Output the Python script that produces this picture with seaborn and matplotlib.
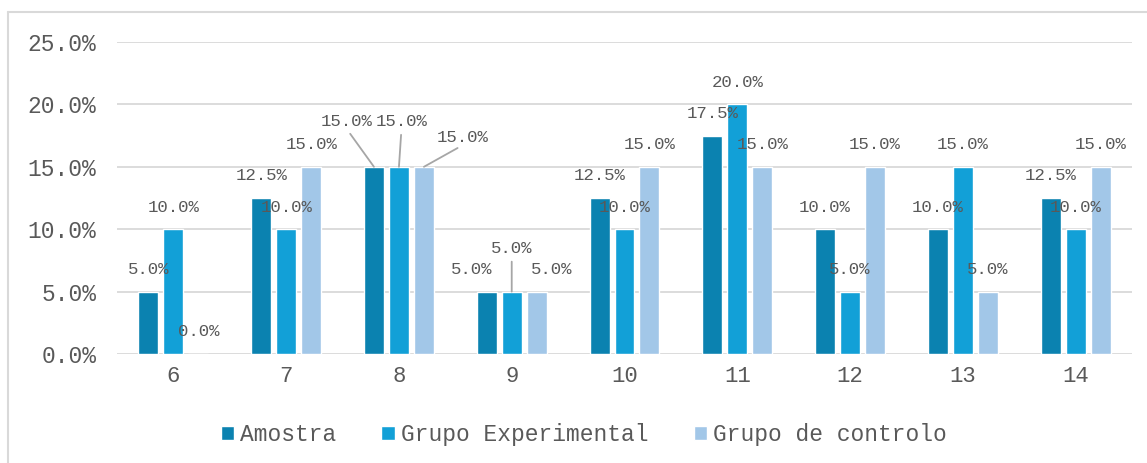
import matplotlib
matplotlib.use("Agg")
import matplotlib.pyplot as plt
from matplotlib.lines import Line2D
import numpy as np
import pandas as pd
import seaborn as sns

# Idades e percentagens por grupo
idades = ["6", "7", "8", "9", "10", "11", "12", "13", "14"]
grupos = ["Amostra", "Grupo Experimental", "Grupo de controlo"]
amostra = [5.0, 12.5, 15.0, 5.0, 12.5, 17.5, 10.0, 10.0, 12.5]
experimental = [10.0, 10.0, 15.0, 5.0, 10.0, 20.0, 5.0, 15.0, 10.0]
controlo = [0.0, 15.0, 15.0, 5.0, 15.0, 15.0, 15.0, 5.0, 15.0]
y_ticks = [0, 5, 10, 15, 20, 25]

cores = ["#0B82B0", "#12A0D7", "#A2C7E8"]
texto = "#595959"
grelha = "#D9D9D9"

df = pd.DataFrame({
    "idade": idades * 3,
    "grupo": [g for g in grupos for _ in idades],
    "pct": amostra + experimental + controlo,
})

sns.set_theme(style="white")
plt.rcParams["font.family"] = ["Liberation Mono", "DejaVu Sans Mono"]

fig = plt.figure(figsize=(11.47, 4.63), dpi=100)
ax = fig.add_axes([117 / 1147, 1 - 354 / 463, (1132 - 117) / 1147, (354 - 42) / 463])

sns.barplot(data=df, x="idade", y="pct", hue="grupo", order=idades,
            hue_order=grupos, palette=cores, saturation=1, width=0.665,
            gap=0.2, errorbar=None, ax=ax)

ax.set_xlim(-0.5, len(idades) - 0.5)
ax.set_ylim(0, 25)
ax.set_yticks(y_ticks)
ax.set_yticklabels([f"{v:.1f}%" for v in y_ticks])
ax.yaxis.grid(True, color=grelha, linewidth=1.3)
ax.set_axisbelow(True)
for s in ax.spines.values():
    s.set_visible(False)
ax.tick_params(axis="y", length=0, pad=15, labelsize=16.5, labelcolor=texto)
ax.tick_params(axis="x", length=0, pad=9, labelsize=16, labelcolor=texto)
ax.set_xlabel("")
ax.set_ylabel("")

# Rótulos de dados: por omissão centrados 22 px acima da barra
ajustes = {
    ("Amostra", "8"): (-27, 45, True),
    ("Grupo Experimental", "8"): (2.5, 45, True),
    ("Grupo de controlo", "8"): (38.5, 29, True),
    ("Amostra", "9"): (-15, 22, False),
    ("Grupo Experimental", "9"): (0, 43, True),
    ("Grupo de controlo", "9"): (15, 22, False),
}
for grupo, cont in zip(grupos, ax.containers):
    for idade, barra in zip(idades, cont):
        valor = barra.get_height()
        xc = barra.get_x() + barra.get_width() / 2
        dx, dy, linha = ajustes.get((grupo, idade), (0, 22, False))
        props = None
        if linha:
            props = dict(arrowstyle="-", color="#A6A6A6", lw=1.3,
                         shrinkA=4, shrinkB=0, relpos=(0.5, 0), patchA=None)
        ax.annotate(f"{valor:.1f}%", xy=(xc, valor), xytext=(dx, dy),
                    textcoords="offset pixels", ha="center", va="center",
                    fontsize=12.5, color=texto, arrowprops=props)

if ax.get_legend() is not None:
    ax.get_legend().remove()
handles, labels = ax.get_legend_handles_labels()
fig.legend(handles, labels, loc="center", bbox_to_anchor=(0.509, 0.0616),
           ncol=3, frameon=False, fontsize=16.5, labelcolor=texto,
           handlelength=0.6, handleheight=0.6, handletextpad=0.26,
           columnspacing=1.96, borderaxespad=0)

# Moldura do gráfico
fig.add_artist(Line2D([8 / 1147, 1.0], [1 - 12 / 463, 1 - 12 / 463],
                      transform=fig.transFigure, color=grelha, lw=1.5))
fig.add_artist(Line2D([8 / 1147, 8 / 1147], [0.0, 1 - 12 / 463],
                      transform=fig.transFigure, color=grelha, lw=1.5))

fig.savefig("out.png", dpi=100)
